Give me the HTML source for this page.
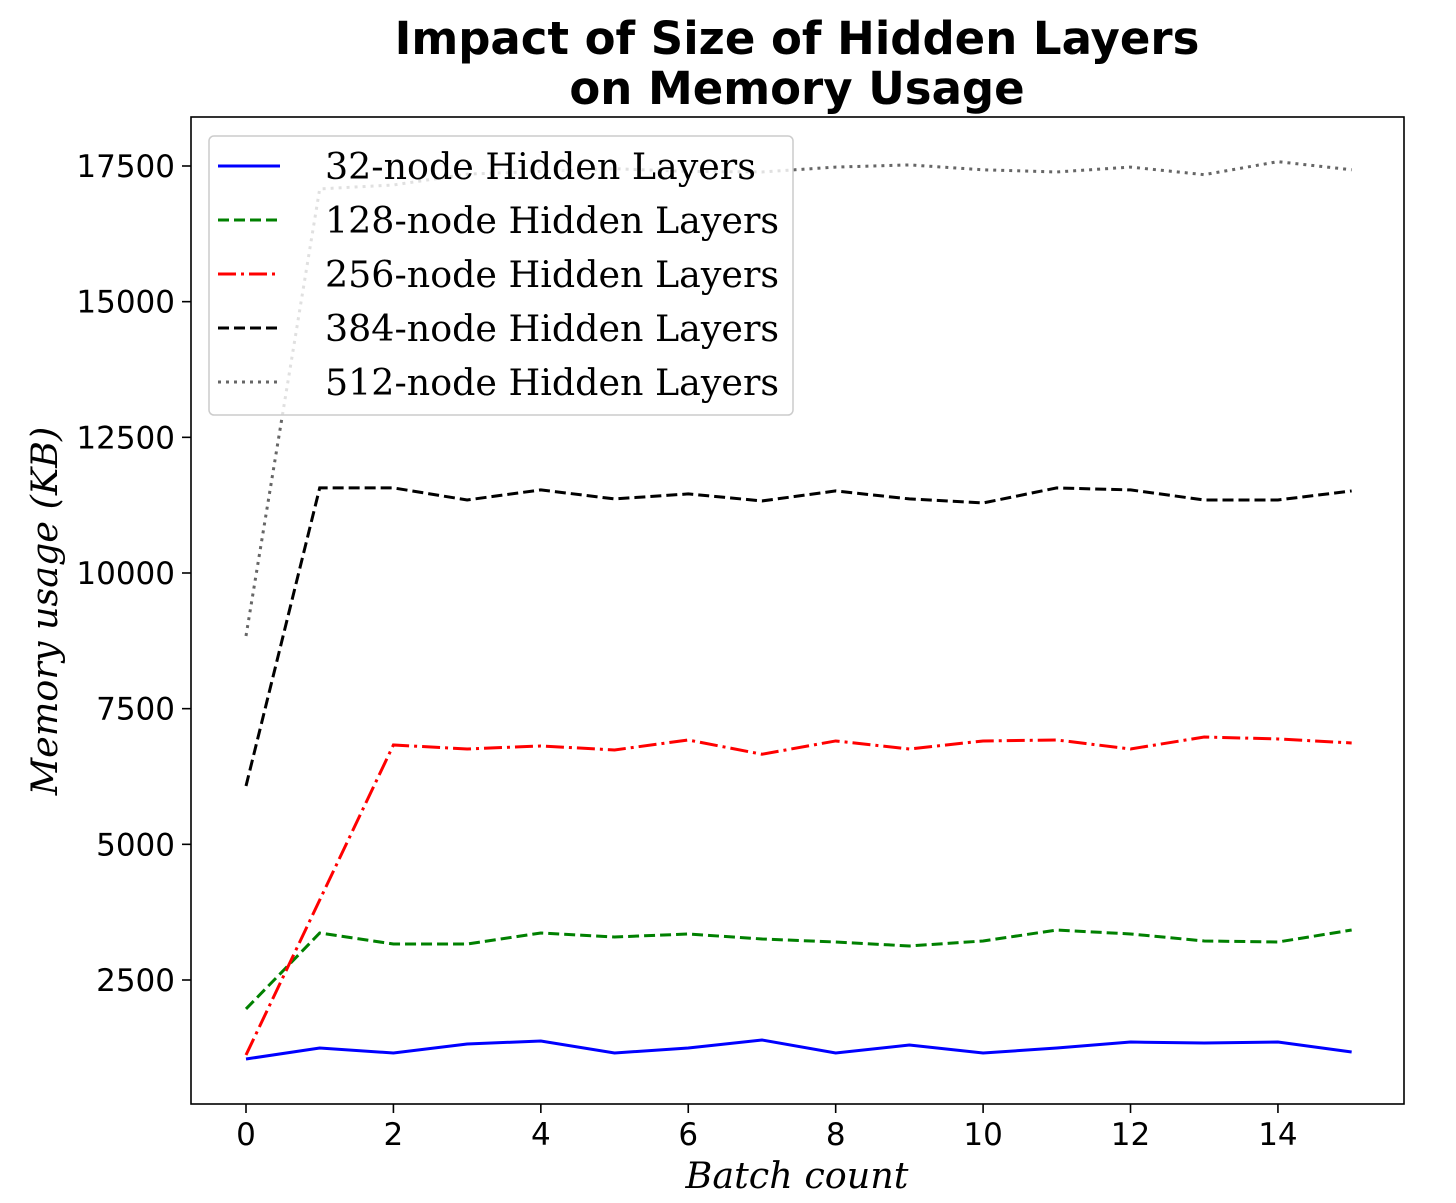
<!DOCTYPE html>
<html><head><meta charset="utf-8"><style>
html,body{margin:0;padding:0;background:#fff;}
svg{display:block;}
</style></head><body>
<svg id="chart" width="1456" height="1203" xmlns="http://www.w3.org/2000/svg">
<rect width="1456" height="1203" fill="#fff"/>
<text x="797" y="54" text-anchor="middle" font-family="'DejaVu Sans',sans-serif" font-weight="bold" font-size="45">Impact of Size of Hidden Layers</text>
<text x="797" y="104" text-anchor="middle" font-family="'DejaVu Sans',sans-serif" font-weight="bold" font-size="45">on Memory Usage</text>
<g id="series"></g>
<g id="axes"></g>
<rect x="191" y="117" width="1213" height="987" fill="none" stroke="#000" stroke-width="1.6"/>
<text x="797" y="1188" text-anchor="middle" font-family="'DejaVu Serif','Liberation Serif',serif" font-style="italic" font-size="36.5">Batch count</text>
<text transform="translate(57,611) rotate(-90)" text-anchor="middle" font-family="'DejaVu Serif','Liberation Serif',serif" font-style="italic" font-size="36.5">Memory usage (KB)</text>
<g id="legend"></g>
</svg>
<script>
const batches = [0,1,2,3,4,5,6,7,8,9,10,11,12,13,14,15];
const s32  = [1044,1247,1155,1320,1376,1155,1247,1394,1155,1302,1155,1247,1357,1339,1357,1173];
const s128 = [1966,3366,3163,3163,3366,3292,3348,3256,3200,3127,3219,3421,3348,3219,3200,3421];
const s256 = [1118,3974,6831,6757,6813,6739,6923,6660,6905,6757,6905,6923,6757,6978,6942,6868];
const s384 = [6075,11568,11568,11346,11531,11365,11457,11328,11512,11365,11291,11568,11531,11346,11346,11512];
const s512 = [8840,17078,17150,17350,17400,17450,17400,17390,17480,17520,17430,17390,17480,17340,17580,17430];
const xTicks = [0,2,4,6,8,10,12,14];
const yTicks = [2500,5000,7500,10000,12500,15000,17500];
const seriesNames = ["32-node Hidden Layers","128-node Hidden Layers","256-node Hidden Layers","384-node Hidden Layers","512-node Hidden Layers"];

const NS="http://www.w3.org/2000/svg";
function X(v){return 246+v*73.71;}
function Y(v){return 980-(v-2500)*0.054267;}
function mk(tag,attrs,parent){const e=document.createElementNS(NS,tag);for(const k in attrs)e.setAttribute(k,attrs[k]);parent.appendChild(e);return e;}

const styles=[
 {c:"#0000ff",d:""},
 {c:"#008000",d:"11,5"},
 {c:"#ff0000",d:"18,5,3,5"},
 {c:"#000000",d:"11,5"},
 {c:"#666666",d:"3,5"}
];
const data=[s32,s128,s256,s384,s512];
const sg=document.getElementById('series');
data.forEach((arr,i)=>{
  const p=mk('polyline',{points:arr.map((v,j)=>X(batches[j])+','+Y(v)).join(' '),fill:'none',stroke:styles[i].c,'stroke-width':3,'stroke-dasharray':styles[i].d},sg);
  
  
});

const ax=document.getElementById('axes');
xTicks.forEach(t=>{
  const l=mk('line',{x1:X(t),x2:X(t),y1:1104,y2:1113,stroke:'#000','stroke-width':1.6},ax);
  
  
  const tx=mk('text',{x:X(t),y:1145,'text-anchor':'middle','font-family':"'DejaVu Sans',sans-serif",'font-size':31},ax);
  tx.textContent=t;
  
  
});
yTicks.forEach(t=>{
  const l=mk('line',{x1:182,x2:191,y1:Y(t),y2:Y(t),stroke:'#000','stroke-width':1.6},ax);
  
  
  const tx=mk('text',{x:175,y:Y(t)+11,'text-anchor':'end','font-family':"'DejaVu Sans',sans-serif",'font-size':31},ax);
  tx.textContent=t;
  
  
});

const lg=document.getElementById('legend');
const box=mk('rect',{x:209,y:136,width:584,height:279,rx:5,fill:'#fff','fill-opacity':0.8,stroke:'#ccc','stroke-width':1.5},lg);


seriesNames.forEach((n,i)=>{
  const y=166+i*54;
  const l=mk('line',{x1:218,x2:280,y1:y,y2:y,stroke:styles[i].c,'stroke-width':3,'stroke-dasharray':styles[i].d},lg);
  
  
  const tx=mk('text',{x:325,y:y+13,'font-family':"'DejaVu Serif','Liberation Serif',serif",'font-size':36.4},lg);
  tx.textContent=n;
  
  
});
</script>
</body></html>
